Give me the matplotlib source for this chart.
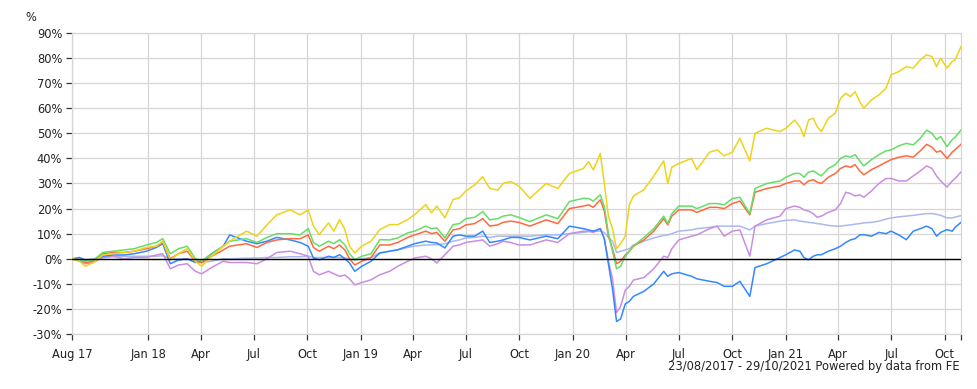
import matplotlib
matplotlib.use("Agg")
import matplotlib.pyplot as plt
import pandas as pd

plt.rcParams['font.family'] = ['DejaVu Sans']
plt.rcParams['font.size'] = 8.3

# sample dates
dates = pd.to_datetime([
    "2017-08-23", "2017-09-05", "2017-09-15", "2017-09-29", "2017-10-15",
    "2017-11-01", "2017-11-20", "2017-12-08", "2017-12-29", "2018-01-15",
    "2018-01-26", "2018-02-08", "2018-02-22", "2018-03-09", "2018-03-23",
    "2018-04-03", "2018-04-20", "2018-05-10", "2018-05-21", "2018-06-19",
    "2018-07-07", "2018-07-24", "2018-08-10", "2018-09-02", "2018-09-19",
    # Oct 2018 - Jul 2019
    "2018-10-03", "2018-10-12", "2018-10-22", "2018-11-07", "2018-11-16",
    "2018-11-26", "2018-12-05", "2018-12-13", "2018-12-22", "2019-01-03",
    "2019-01-19", "2019-02-03", "2019-02-20", "2019-03-06", "2019-03-23",
    "2019-04-04", "2019-04-23", "2019-05-03", "2019-05-12", "2019-05-26",
    "2019-06-09", "2019-06-20", "2019-07-01", "2019-07-16",
    # Jul 2019 - Mar 2020
    "2019-07-30", "2019-08-11", "2019-08-25", "2019-09-03", "2019-09-16",
    "2019-09-30", "2019-10-19", "2019-11-16", "2019-12-06", "2019-12-26",
    "2020-01-19", "2020-01-28", "2020-02-05", "2020-02-17", "2020-02-24",
    "2020-03-02", "2020-03-09", "2020-03-16", "2020-03-23", "2020-03-31",
    # Apr 2020 - Dec 2020
    "2020-04-07", "2020-04-14", "2020-05-02", "2020-05-19", "2020-06-05",
    "2020-06-12", "2020-06-19", "2020-07-01", "2020-07-23", "2020-08-01",
    "2020-08-23", "2020-09-05", "2020-09-17", "2020-10-01", "2020-10-14",
    "2020-10-31", "2020-11-09", "2020-11-29", "2020-12-22",
    # 2021
    "2021-01-01", "2021-01-16", "2021-01-25", "2021-02-01", "2021-02-09",
    "2021-02-17", "2021-02-24", "2021-03-03", "2021-03-15", "2021-03-27",
    "2021-04-05", "2021-04-14", "2021-04-22", "2021-04-30", "2021-05-08",
    "2021-05-15", "2021-05-28", "2021-06-10", "2021-06-22", "2021-07-01",
    "2021-07-14", "2021-07-27", "2021-08-08", "2021-08-20", "2021-08-31",
    "2021-09-09", "2021-09-17", "2021-09-24", "2021-10-05", "2021-10-14",
    "2021-10-19", "2021-10-29",
])

yellow = [0, -1, -3, -1.5, 1.5, 2, 2.5, 3, 4.5, 5,
          7, -0.5, 2, 4, -1, -3, 1, 5, 7, 11,
          9, 13.5, 17.5, 19.5, 17.5,
          19.5, 13, 9.6, 14.3, 11, 15.6, 11.6, 5, 2.3, 5,
          7, 11.6, 13.6, 13.6, 15.6, 17.6, 21.6, 18.3, 21, 16.3,
          23.6, 24.3, 27, 29.4,
          32.7, 28, 27.4, 30, 30.8, 29, 24.1, 30, 28, 34,
          36, 38.7, 35.4, 42, 30, 17, 12, 4, 6, 9,
          21.5, 25, 27.5, 33, 39, 30, 36.5, 38, 40, 35.5,
          42.5, 43.4, 41, 42.5, 48, 39, 50, 52, 50.7,
          52, 55.3, 52.6, 48.7, 55.3, 56, 52.6, 50.7, 56, 58,
          64, 66, 64.6, 66.6, 62.6, 60, 63.3, 65.3, 68, 73.3,
          74.6, 76.6, 76, 79.3, 81.3, 80.6, 76.6, 80, 76, 78.7,
          79.3, 84.6]
green = [0, -0.5, -1, -0.5, 2.5, 3, 3.5, 4, 5.5, 6.5,
         8, 2, 4, 5, 0, -1, 2, 5, 7, 8,
         6.5, 8.5, 10, 10, 9.5,
         12, 6.5, 5, 7, 6, 7.6, 5.5, 2, -0.4, 1,
         2, 7.6, 7.5, 8.3, 10.3, 11, 13, 12, 12.3, 8.3,
         13.6, 14, 16, 16.5,
         18.8, 15.5, 16, 17, 17.5, 16.5, 14.8, 17.5, 16, 22.8,
         24.1, 24, 23, 25.5, 20.8, 10, 3, -4, -3, 1,
         3, 5, 8.5, 12, 17, 14, 18, 21, 21, 20,
         22, 22, 21.5, 24, 24.5, 18, 28, 30, 31,
         32.5, 34, 34, 32.5, 34.5, 35, 34, 33, 36, 37.5,
         40, 41, 40.5, 41.5, 39, 37, 39.5, 41.5, 43, 43.4,
         45, 46, 45.4, 48, 51.3, 50, 47.5, 48.7, 44.7, 47.5,
         48.5, 51.3]
orange = [0, -0.5, -1.5, -1, 2, 2.5, 2.5, 3, 4, 5,
          6.5, 0, 2, 3, -1, -1.5, 1, 3.5, 5, 6,
          4.5, 6.5, 7.5, 8, 8,
          9.5, 4.5, 3, 5, 4, 5.5, 3.5, 0, -2.5, -1,
          0.5, 5.5, 5.5, 6.5, 8.5, 9.5, 11, 10, 10.5, 7,
          11.5, 12, 13.5, 14,
          16, 13, 13.5, 14.5, 15, 14.5, 13, 15.5, 14, 20,
          21, 21.5, 20.5, 23.5, 19, 9, 4, -2, -1, 1.5,
          3, 5, 7.5, 11, 16, 13.5, 17, 19.5, 19.5, 18.5,
          20.5, 20.5, 20, 22, 23, 17.5, 26.5, 28, 29,
          30, 31, 31, 29.5, 31, 31.5, 30.5, 30, 32.5, 34,
          36, 37, 36.5, 37.5, 35, 33.5, 35.5, 37, 38.5, 39.5,
          40.5, 41, 40.5, 43, 45.6, 44.5, 42.5, 43, 40, 42.5,
          43.5, 45.6]
blue = [0, 0.5, -0.5, -0.5, 1, 1.5, 1.5, 2, 3, 4.5,
        6, -2, -0.5, 0, -1.5, -1, 2, 5, 9.5, 7,
        6, 7, 8.5, 7.5, 6.5,
        5, 0.3, -0.4, 1, 0.5, 1.6, 0, -1.7, -5, -3,
        -1, 2.3, 3, 3.6, 5, 6, 7, 6.5, 6.3, 4.3,
        9, 9.5, 9, 9,
        11, 6.5, 7, 7.5, 8.5, 8.5, 7.5, 9, 8, 13,
        12, 11.5, 11, 12, 8, -2, -12, -25, -24, -18,
        -17, -15, -13, -10, -5, -7, -6, -5.5, -7, -8,
        -9, -9.5, -11, -11, -9, -15, -3.5, -2, 0.5,
        1.6, 3.5, 3, 0.5, -0.4, 1, 1.6, 1.6, 3, 4,
        5, 6.5, 7.5, 8, 9.5, 9.6, 9, 10.5, 10, 11,
        9.5, 7.6, 11, 12, 13, 12, 9, 10.5, 11.6, 11,
        12.5, 14.5]
purple = [0, -1, -2, -1.5, 0.5, 1, 0, 0.5, 0.5, 1.5,
          2, -4, -2.5, -2, -5, -6, -3.5, -1, -1.5, -1.5,
          -2, 0, 2.5, 3, 2,
          1, -5, -6.4, -5, -6, -7, -6.5, -8, -10.4, -9.5,
          -8.4, -6.4, -5, -3, -1, 0.3, 1, 0, -1.7, 1.6,
          5, 5.5, 6.5, 7,
          7.5, 5, 6, 7, 6.5, 5.5, 5.5, 7.5, 6.5, 10,
          11, 11, 10.5, 12, 8, -1, -8, -21.5, -19, -12.5,
          -11, -8.5, -7.5, -4, 1, 0.5, 4, 7.5, 9, 9.5,
          12, 13, 9, 11, 11.5, 1, 13, 15.5, 17,
          20, 21, 20.5, 19.5, 19, 18, 16.5, 17, 18.5, 19.5,
          22, 26.5, 26, 25, 25.5, 24.5, 27, 30, 32, 32,
          31, 31, 33, 35, 37, 36, 33, 31, 28.6, 31,
          32, 34.6]
lavender = [0, 0, -0.5, 0, 0.5, 0.8, 1, 1, 1, 1,
            1.2, 0, 0, 0, -0.5, -1.5, -1, 0, 0, 0.2,
            0.3, 0.5, 0.5, 0.8, 0.8,
            1, 0.5, 0.5, 0.5, 0.5, 0.5, 0.3, 0, -0.5, 0,
            0.5, 2.3, 3, 3.5, 4.5, 5, 5.5, 5.5, 5.6, 6,
            7, 7.5, 8.3, 8.5,
            9, 8.5, 9, 9, 9, 9, 9, 9.5, 9.5, 10,
            10.5, 10.8, 11, 11, 10.5, 8.5, 7, 2.5, 3, 3.5,
            4, 5.5, 7, 8.3, 9.3, 9.5, 10, 11, 11.5, 12,
            12.5, 13, 13, 13, 13, 11.5, 13, 14, 15,
            15.3, 15.5, 15, 14.8, 14.5, 14.3, 14, 13.8, 13.3, 13,
            13, 13.3, 13.5, 13.8, 14, 14.3, 14.5, 15, 15.8, 16.3,
            16.7, 17, 17.3, 17.7, 18, 18, 17.7, 17.3, 16.3, 16.3,
            16.6, 17.2]

tick_dates = pd.to_datetime([
    "2017-08-23", "2018-01-01", "2018-04-01", "2018-07-01", "2018-10-01",
    "2019-01-01", "2019-04-01", "2019-07-01", "2019-10-01", "2020-01-01",
    "2020-04-01", "2020-07-01", "2020-10-01", "2021-01-01", "2021-04-01",
    "2021-07-01", "2021-10-01",
])
tick_labels = ["Aug 17", "Jan 18", "Apr", "Jul", "Oct", "Jan 19", "Apr", "Jul",
               "Oct", "Jan 20", "Apr", "Jul", "Oct", "Jan 21", "Apr", "Jul", "Oct"]
y_ticks = list(range(-30, 91, 10))

fig = plt.figure(figsize=(9.78, 3.89), dpi=100)
ax = fig.add_axes([0.0736, 0.1414, 0.9090, 0.7738])

ax.plot(dates, lavender, color='#a9b9ee', lw=1.1, zorder=3)
ax.plot(dates, purple, color='#c98ee0', lw=1.1, zorder=3)
ax.plot(dates, blue, color='#3388ff', lw=1.1, zorder=4)
ax.plot(dates, orange, color='#ff6a3d', lw=1.1, zorder=4)
ax.plot(dates, green, color='#66dd66', lw=1.1, zorder=4)
ax.plot(dates, yellow, color='#eed31a', lw=1.1, zorder=5)
ax.axhline(0, color='black', lw=1.0, zorder=6)

ax.set_xlim(dates[0], dates[-1])
ax.set_ylim(-30, 90)
ax.set_yticks(y_ticks)
ax.set_yticklabels([f"{v}%" for v in y_ticks])
ax.set_xticks(tick_dates)
ax.set_xticklabels(tick_labels)
ax.set_xticks([dates[-1]], minor=True)

ax.grid(True, color='#d6d6d6', lw=0.9, zorder=0)
for s in ax.spines.values():
    s.set_color('#d6d6d6')
    s.set_linewidth(0.9)
ax.tick_params(axis='both', which='both', length=4, width=0.9, color='#333333',
               labelcolor='#222222')
ax.tick_params(axis='x', pad=6)
ax.tick_params(axis='y', pad=3)

fig.text(0.026, 0.955, "%", fontsize=8.3, color='#222222', va='center')
fig.text(0.981, 0.058, "23/08/2017 - 29/10/2021 Powered by data from FE",
         fontsize=8.3, color='#222222', ha='right', va='center')

fig.savefig("out.png", dpi=100, facecolor='white')
